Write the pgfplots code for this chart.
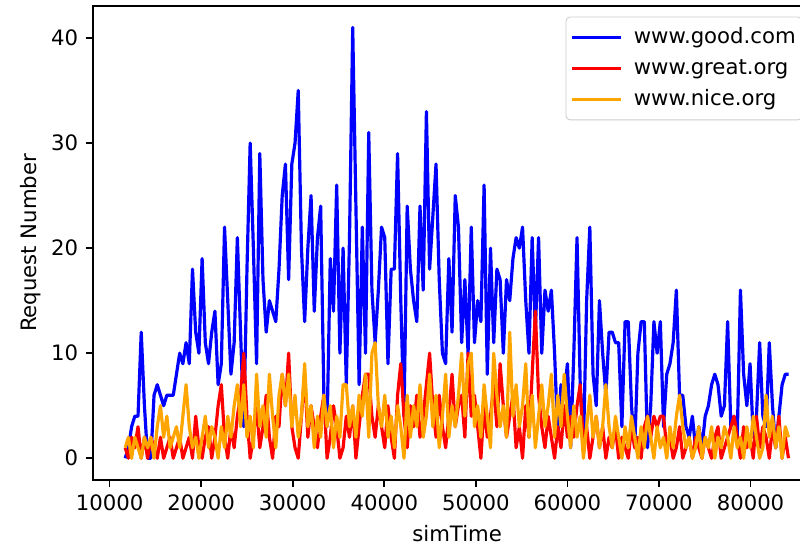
\documentclass[border=0pt]{standalone}
\usepackage{fontspec}
\setmainfont{DejaVu Sans}
\usepackage{pgfplots}
\pgfplotsset{compat=1.18}
\usepackage{pgfplotstable}
\definecolor{mplorange}{RGB}{255,165,0}

% simTime, good.com, great.org, nice.org
\pgfplotstableread{
x b r o
11700 0 1 1
12050 1 0 2
12400 3 2 0
12750 4 1 2
13100 4 3 1
13450 12 0 0
13800 5 2 2
14150 0 0 1
14500 0 2 2
14850 6 1 0
15200 7 0 3
15550 6 2 5
15900 5 0 2
16250 6 1 4
16600 6 2 1
16950 6 0 2
17300 8 1 3
17650 10 2 1
18000 9 0 4
18350 11 1 7
18700 9 2 3
19050 18 0 1
19400 12 4 2
19750 10 1 0
20100 19 0 2
20450 11 2 4
20800 9 3 1
21150 12 0 3
21500 14 2 2
21850 7 5 0
22200 9 7 3
22550 22 2 1
22900 15 0 4
23250 8 3 2
23600 11 1 5
23950 21 4 7
24300 12 6 3
24650 3 10 7
25000 18 4 2
25350 30 0 4
25700 20 2 1
26050 9 5 8
26400 29 1 3
26750 17 3 5
27100 12 6 2
27450 15 2 8
27800 14 0 4
28150 13 4 1
28500 18 3 6
28850 25 8 8
29200 28 5 5
29550 17 10 8
29900 28 3 3
30250 30 1 6
30600 35 0 2
30950 20 4 4
31300 13 8 9
31650 20 2 3
32000 25 5 5
32350 14 3 1
32700 21 1 4
33050 24 4 2
33400 6 6 6
33750 3 0 3
34100 19 2 5
34450 14 5 1
34800 26 3 4
35150 10 0 2
35500 20 1 7
35850 7 4 7
36200 21 2 3
36550 41 5 5
36900 24 0 2
37250 7 3 6
37600 22 6 4
37950 10 8 8
38300 31 8 2
38650 16 4 10
39000 11 2 11
39350 16 5 5
39700 22 3 3
40050 21 1 6
40400 9 5 2
40750 18 2 4
41100 18 0 1
41450 29 6 5
41800 15 9 3
42150 4 4 0
42500 24 1 6
42850 18 5 2
43200 15 3 5
43550 13 6 3
43900 24 2 7
44250 16 4 2
44600 33 7 4
44950 18 10 8
45300 23 5 3
45650 28 2 6
46000 17 6 1
46350 10 3 4
46700 9 1 8
47050 19 4 2
47400 12 8 5
47750 25 3 3
48100 22 5 6
48450 11 6 10
48800 17 2 4
49150 10 10 9
49500 22 4 10
49850 11 6 3
50200 15 3 5
50550 13 0 2
50900 26 5 7
51250 8 2 4
51600 20 4 1
51950 11 7 10
52300 18 3 6
52650 17 9 3
53000 10 5 5
53350 17 2 2
53700 15 4 12
54050 19 6 4
54400 21 1 7
54750 20 3 3
55100 22 0 5
55450 15 5 9
55800 10 2 2
56150 21 8 6
56500 12 14 1
56850 21 6 4
57200 10 3 7
57550 16 1 3
57900 14 4 5
58250 16 2 8
58600 10 0 2
58950 2 3 6
59300 7 1 3
59650 6 5 8
60000 9 2 4
60350 1 4 1
60700 10 2 5
61050 21 5 2
61400 7 7 4
61750 1 1 0
62100 15 3 3
62450 22 0 6
62800 8 2 2
63150 5 4 4
63500 15 1 1
63850 10 3 3
64200 6 0 7
64550 12 2 3
64900 12 1 1
65250 11 3 4
65600 11 0 2
65950 3 2 0
66300 13 1 3
66650 13 0 1
67000 5 3 4
67350 1 1 2
67700 10 2 0
68050 13 0 3
68400 13 3 1
68750 1 4 4
69100 5 2 2
69450 13 4 0
69800 10 3 3
70150 13 4 1
70500 3 4 2
70850 8 1 0
71200 9 2 3
71550 11 0 1
71900 16 1 4
72250 6 3 6
72600 6 0 3
72950 3 1 1
73300 2 2 2
73650 4 0 0
74000 1 2 1
74350 3 1 3
74700 1 0 0
75050 4 2 2
75400 5 1 1
75750 7 0 3
76100 8 2 0
76450 7 3 2
76800 4 0 1
77150 5 1 3
77500 13 2 2
77850 3 3 0
78200 4 4 3
78550 2 2 1
78900 16 0 2
79250 8 3 0
79600 5 1 3
79950 9 2 1
80300 2 0 4
80650 4 4 2
81000 11 1 0
81350 4 3 1
81700 3 2 6
82050 11 0 2
82400 5 3 4
82750 1 1 1
83100 4 4 3
83450 7 0 0
83800 8 2 3
84150 8 0 2
}\sitedata

\begin{document}
\begin{tikzpicture}
\begin{axis}[
  scale only axis,
  width=343pt, height=223.3pt,
  xmin=8200, xmax=87700,
  ymin=-2.05, ymax=43.05,
  xtick={10000,20000,30000,40000,50000,60000,70000,80000},
  ytick={0,10,20,30,40},
  scaled x ticks=false,
  /pgf/number format/assume math mode=true,
  /pgf/number format/1000 sep={},
  tick align=outside,
  tick pos=left,
  major tick length=3.5pt,
  every tick/.style={black, line width=0.8pt},
  axis line style={line width=0.8pt},
  tick label style={font=\fontsize{10}{12}\selectfont},
  label style={font=\fontsize{10}{12}\selectfont},
  xlabel={simTime},
  ylabel={Request Number},
  ylabel shift=-2pt,
  legend cell align=left,
  legend image code/.code={\draw[#1] (0pt,0pt) -- (23pt,0pt); \path (27.5pt,0pt);},
  legend style={at={(0.649,1)}, anchor=north west, yshift=-5pt,
    draw=black!20, rounded corners=2pt, fill=white, fill opacity=0.8, text opacity=1,
    font=\fontsize{10}{12}\selectfont, row sep=3pt, inner xsep=2pt, inner ysep=4pt,
    nodes={inner sep=1pt, text height=7.5pt, text depth=2pt}},
]
\addplot[blue, line width=1.5pt, line join=round] table[x=x, y=b] {\sitedata};
\addplot[red, line width=1.5pt, line join=round] table[x=x, y=r] {\sitedata};
\addplot[mplorange, line width=1.5pt, line join=round] table[x=x, y=o] {\sitedata};
\legend{www.good.com, www.great.org, www.nice.org}
\end{axis}
\pgfresetboundingbox
\useasboundingbox (-43.9pt,-31.4pt) rectangle (333.1pt,226.1pt);
\end{tikzpicture}
\end{document}
